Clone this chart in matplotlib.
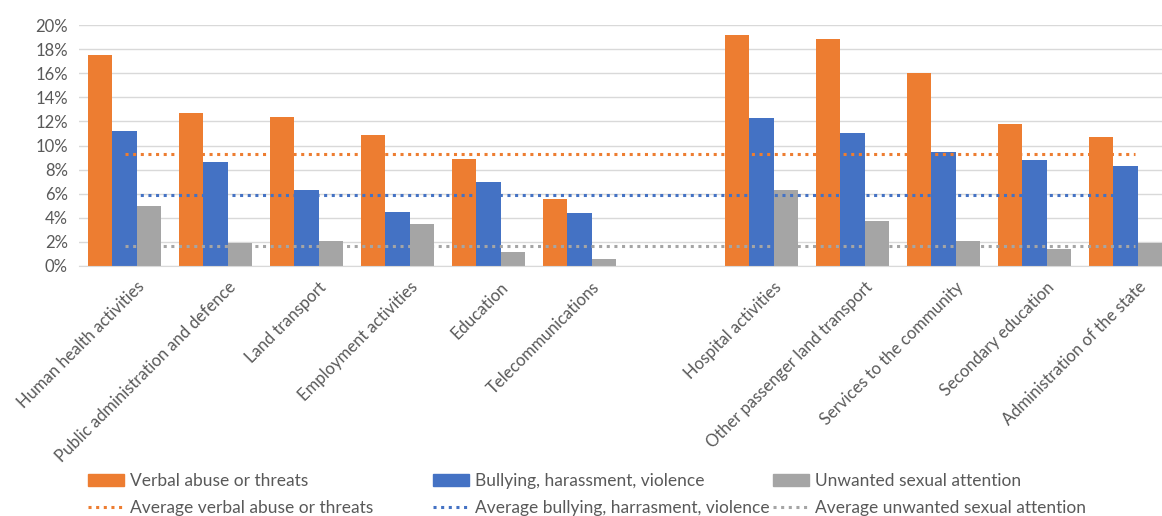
import numpy as np
import matplotlib
matplotlib.use('Agg')
import matplotlib.pyplot as plt
import matplotlib.transforms as mtransforms
from matplotlib.patches import Patch
from matplotlib.lines import Line2D

plt.rcParams['font.family'] = ['Lato', 'DejaVu Sans']

# Sectors (blank entry = gap between the two groups)
categories = ['Human health activities', 'Public administration and defence', 'Land transport',
              'Employment activities', 'Education', 'Telecommunications', '',
              'Hospital activities', 'Other passenger land transport', 'Services to the community',
              'Secondary education', 'Administration of the state']

# Shares in % (None = no bar)
verbal = [17.5, 12.7, 12.4, 10.9, 8.9, 5.6, None, 19.2, 18.8, 16.0, 11.8, 10.7]
bullying = [11.2, 8.6, 6.3, 4.5, 7.0, 4.4, None, 12.3, 11.0, 9.5, 8.8, 8.3]
sexual = [5.0, 1.9, 2.1, 3.5, 1.2, 0.6, None, 6.3, 3.7, 2.1, 1.4, 1.9]

# Averages in %
avg_verbal = 9.3
avg_bullying = 5.9
avg_sexual = 1.7

series_names = ['Verbal abuse or threats', 'Bullying, harassment, violence', 'Unwanted sexual attention']
avg_names = ['Average verbal abuse or threats', 'Average bullying, harrasment, violence',
             'Average unwanted sexual attention']
yticks = [0, 2, 4, 6, 8, 10, 12, 14, 16, 18, 20]

c_orange = '#ED7D31'
c_blue = '#4472C4'
c_gray = '#A5A5A5'
txt = '#595959'

fig = plt.figure(figsize=(11.62, 5.16), dpi=100)
ax = fig.add_axes([79 / 1162, 250 / 516, 1092 / 1162, 241 / 516])

x = np.arange(len(categories))
w = 0.27
vals = [np.array(v, dtype=float) for v in (verbal, bullying, sexual)]
cols = [c_orange, c_blue, c_gray]
for i, (v, c) in enumerate(zip(vals, cols)):
    ax.bar(x + (i - 1) * w, np.nan_to_num(v), width=w, color=c, zorder=2)

dots = (0, (1, 1.5))
for a, c in zip((avg_verbal, avg_bullying, avg_sexual), cols):
    ax.plot([x[0], x[-1] + 0.1], [a, a], color=c, lw=2.2, linestyle=dots, zorder=3)

ax.set_xlim(-0.5, len(categories) - 0.5)
ax.set_ylim(0, 20)
ax.set_yticks(yticks)
ax.set_yticklabels([f'{t}%' for t in yticks], fontsize=12, color=txt)
ax.yaxis.grid(True, color='#D9D9D9', lw=1, zorder=0)
ax.set_axisbelow(True)
for s in ['top', 'right', 'left']:
    ax.spines[s].set_visible(False)
ax.spines['bottom'].set_color('#D9D9D9')
ax.tick_params(axis='y', length=0, pad=8)
ax.tick_params(axis='x', length=0)

ax.set_xticks(x)
ax.set_xticklabels(categories, rotation=45, ha='right', va='top', rotation_mode='anchor',
                   fontsize=12, color=txt)
offset = mtransforms.ScaledTranslation(12 / 100, -8 / 100, fig.dpi_scale_trans)
for lab in ax.get_xticklabels():
    lab.set_transform(lab.get_transform() + offset)

# legend: three columns placed by hand
lx = [88, 433, 773]
for i in range(3):
    h = [Patch(color=cols[i]), Line2D([0], [0], color=cols[i], lw=2.2, linestyle=dots)]
    fig.legend(h, [series_names[i], avg_names[i]], loc='upper left',
               bbox_to_anchor=(lx[i] / 1162, 1 - 473 / 516), frameon=False, fontsize=12.5,
               labelcolor=txt, handlelength=2.1, handletextpad=0.3, labelspacing=0.65,
               borderpad=0, borderaxespad=0)

fig.savefig('out.png', dpi=100)
